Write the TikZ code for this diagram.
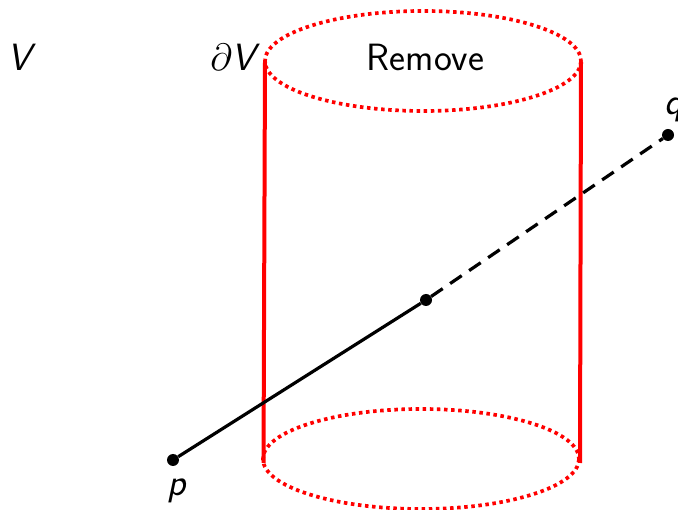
\documentclass[tikz,border=0pt]{standalone}
\usepackage{fix-cm}
\tikzset{
  dotpt/.style={circle,fill=black,inner sep=0pt,minimum size=12pt},
  lab/.style={inner sep=0pt,font=\fontsize{38}{42}\selectfont\sffamily},
  rim/.style={red,line width=3.7pt,dash pattern=on 3.5pt off 3.6pt},
  wall/.style={red,line width=4pt},
  seg/.style={black,line width=3.2pt}
}
\begin{document}
\begin{tikzpicture}[x=1pt,y=-1pt]
\useasboundingbox (0,0) rectangle (678,510);
\draw[rim] (423,61) ellipse [x radius=158,y radius=50];
\draw[rim] (421,459) ellipse [x radius=158,y radius=50];
\coordinate (tl) at (265,62);
\coordinate (bl) at (263.5,463);
\coordinate (tr) at (581,62);
\coordinate (br) at (580,463);
\draw[wall] (tl) -- (bl);
\draw[wall] (tr) -- (br);
\node[dotpt] (p) at (173,460) {};
\node[dotpt] (m) at (426,300) {};
\node[dotpt] (q) at (668,135) {};
\draw[seg] (p) -- (m);
\draw[seg,dash pattern=on 14pt off 9pt] (m) -- (q);
\node[lab,anchor=base] (v) at (19,71) {\itshape V};
\node[lab,anchor=base] (dv) at (233,71) {$\partial$\itshape V};
\node[lab,anchor=base] (rem) at (425.5,71) {Remove};
\node[lab,anchor=base] (pl) at (177,496) {\itshape p};
\node[lab,anchor=base] (ql) at (674,115) {\itshape q};
\end{tikzpicture}
\end{document}
